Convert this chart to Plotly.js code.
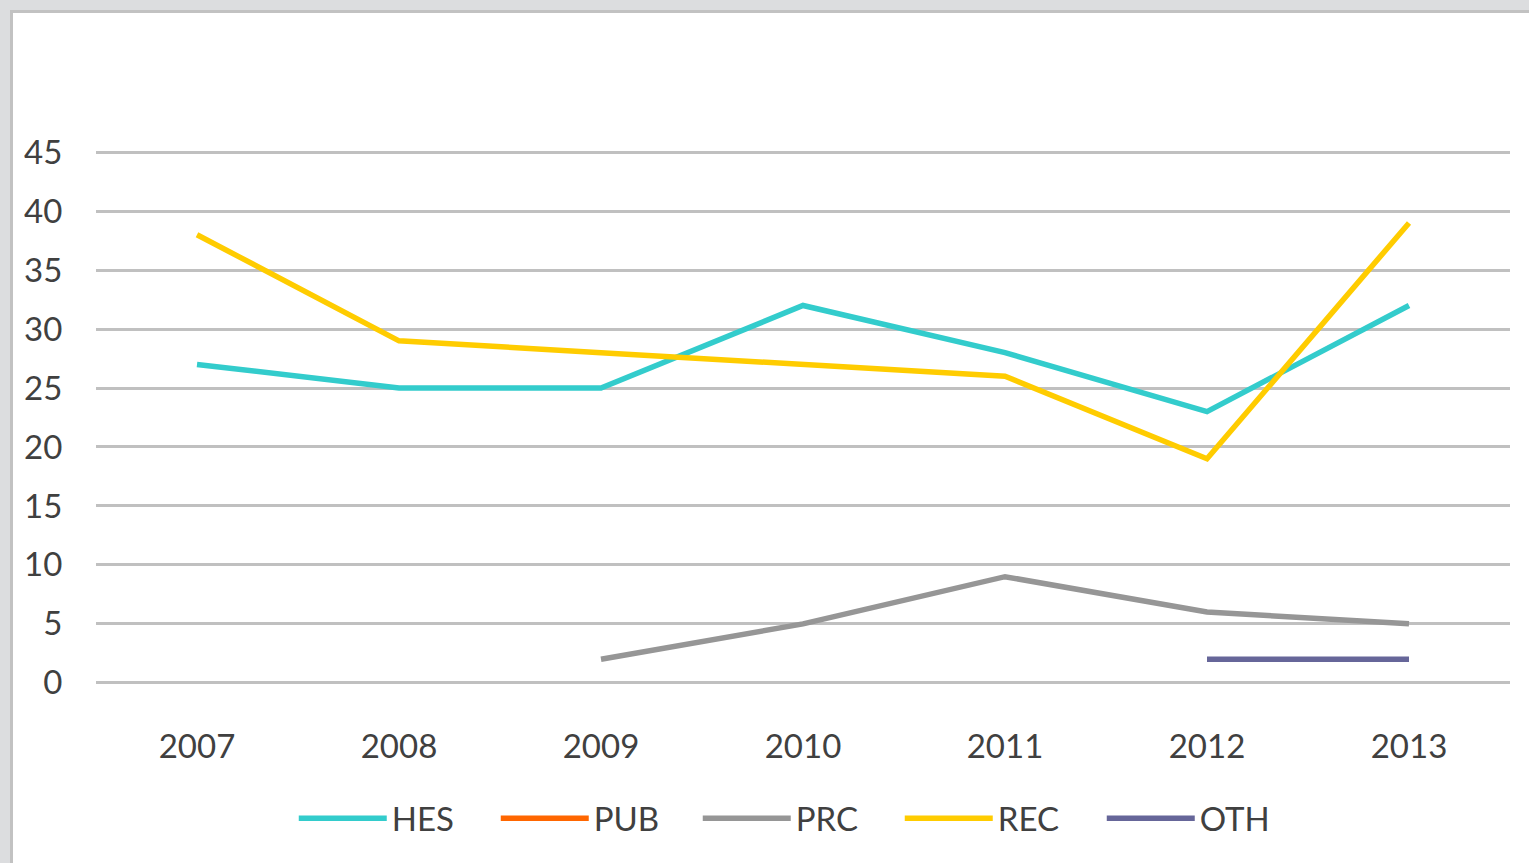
<!DOCTYPE html>
<html>
<head>
<meta charset="utf-8">
<script src="https://cdn.plot.ly/plotly-3.0.1.min.js"></script>
<style>
    html, body { margin: 0; padding: 0; background: #dcdddf; overflow: hidden; }
    #chart {
        position: absolute;
        left: 10px;
        top: 10px;
        width: 1516px;
        height: 850px;
        border-left: 3px solid #c2c2c2;
        border-top: 3px solid #c2c2c2;
        background: white;
    }
</style>
</head>
<body>
<div id="chart"></div>
<script>
// Yearly counts per category
const years = ['2007', '2008', '2009', '2010', '2011', '2012', '2013'];
const hesValues = [27, 25, 25, 32, 28, 23, 32];
const pubValues = [null, null, null, null, null, null, null];
const prcValues = [null, null, 2, 5, 9, 6, 5];
const recValues = [38, 29, 28, 27, 26, 19, 39];
const othValues = [null, null, null, null, null, 2, 2];

const seriesNames = ['HES', 'PUB', 'PRC', 'REC', 'OTH'];
const seriesColors = ['#33cccc', '#ff6600', '#969696', '#ffcc00', '#666699'];
const yTicks = [0, 5, 10, 15, 20, 25, 30, 35, 40, 45];

const fontFamily = 'Lato, "Open Sans", sans-serif';

function makeTrace(name, values, color) {
    return {
        x: years,
        y: values,
        name: name,
        type: 'scatter',
        mode: 'lines',
        line: { color: color, width: 5.5 },
        connectgaps: false,
        hoverinfo: 'x+y+name'
    };
}

const allValues = [hesValues, pubValues, prcValues, recValues, othValues];
const traces = seriesNames.map((n, i) => makeTrace(n, allValues[i], seriesColors[i]));

const layout = {
    width: 1516,
    height: 850,
    margin: { l: 83, r: 19, t: 138, b: 179 },
    paper_bgcolor: 'white',
    plot_bgcolor: 'white',
    font: { family: fontFamily, size: 33, color: '#404040' },
    showlegend: true,
    legend: {
        orientation: 'h',
        x: 0.497,
        xanchor: 'center',
        y: -0.252,
        yanchor: 'middle',
        itemwidth: 88,
        entrywidth: 99,
        entrywidthmode: 'pixels',
        tracegroupgap: 0,
        font: { family: fontFamily, size: 33, color: '#404040' }
    },
    xaxis: {
        type: 'category',
        range: [-0.5, 6.5],
        showgrid: false,
        zeroline: false,
        showline: false,
        ticks: 'outside',
        ticklen: 33,
        tickcolor: 'rgba(0,0,0,0)',
        tickfont: { family: fontFamily, size: 33, color: '#404040' }
    },
    yaxis: {
        range: [-0.1, 45.1],
        tickvals: yTicks,
        ticktext: yTicks.map(String),
        showgrid: true,
        gridcolor: '#c0c0c0',
        gridwidth: 2.5,
        zeroline: false,
        showline: false,
        ticks: 'outside',
        ticklen: 26,
        tickcolor: 'rgba(0,0,0,0)',
        tickfont: { family: fontFamily, size: 33, color: '#404040' }
    }
};

Plotly.newPlot('chart', traces, layout, { displayModeBar: false, responsive: false });
</script>
</body>
</html>
